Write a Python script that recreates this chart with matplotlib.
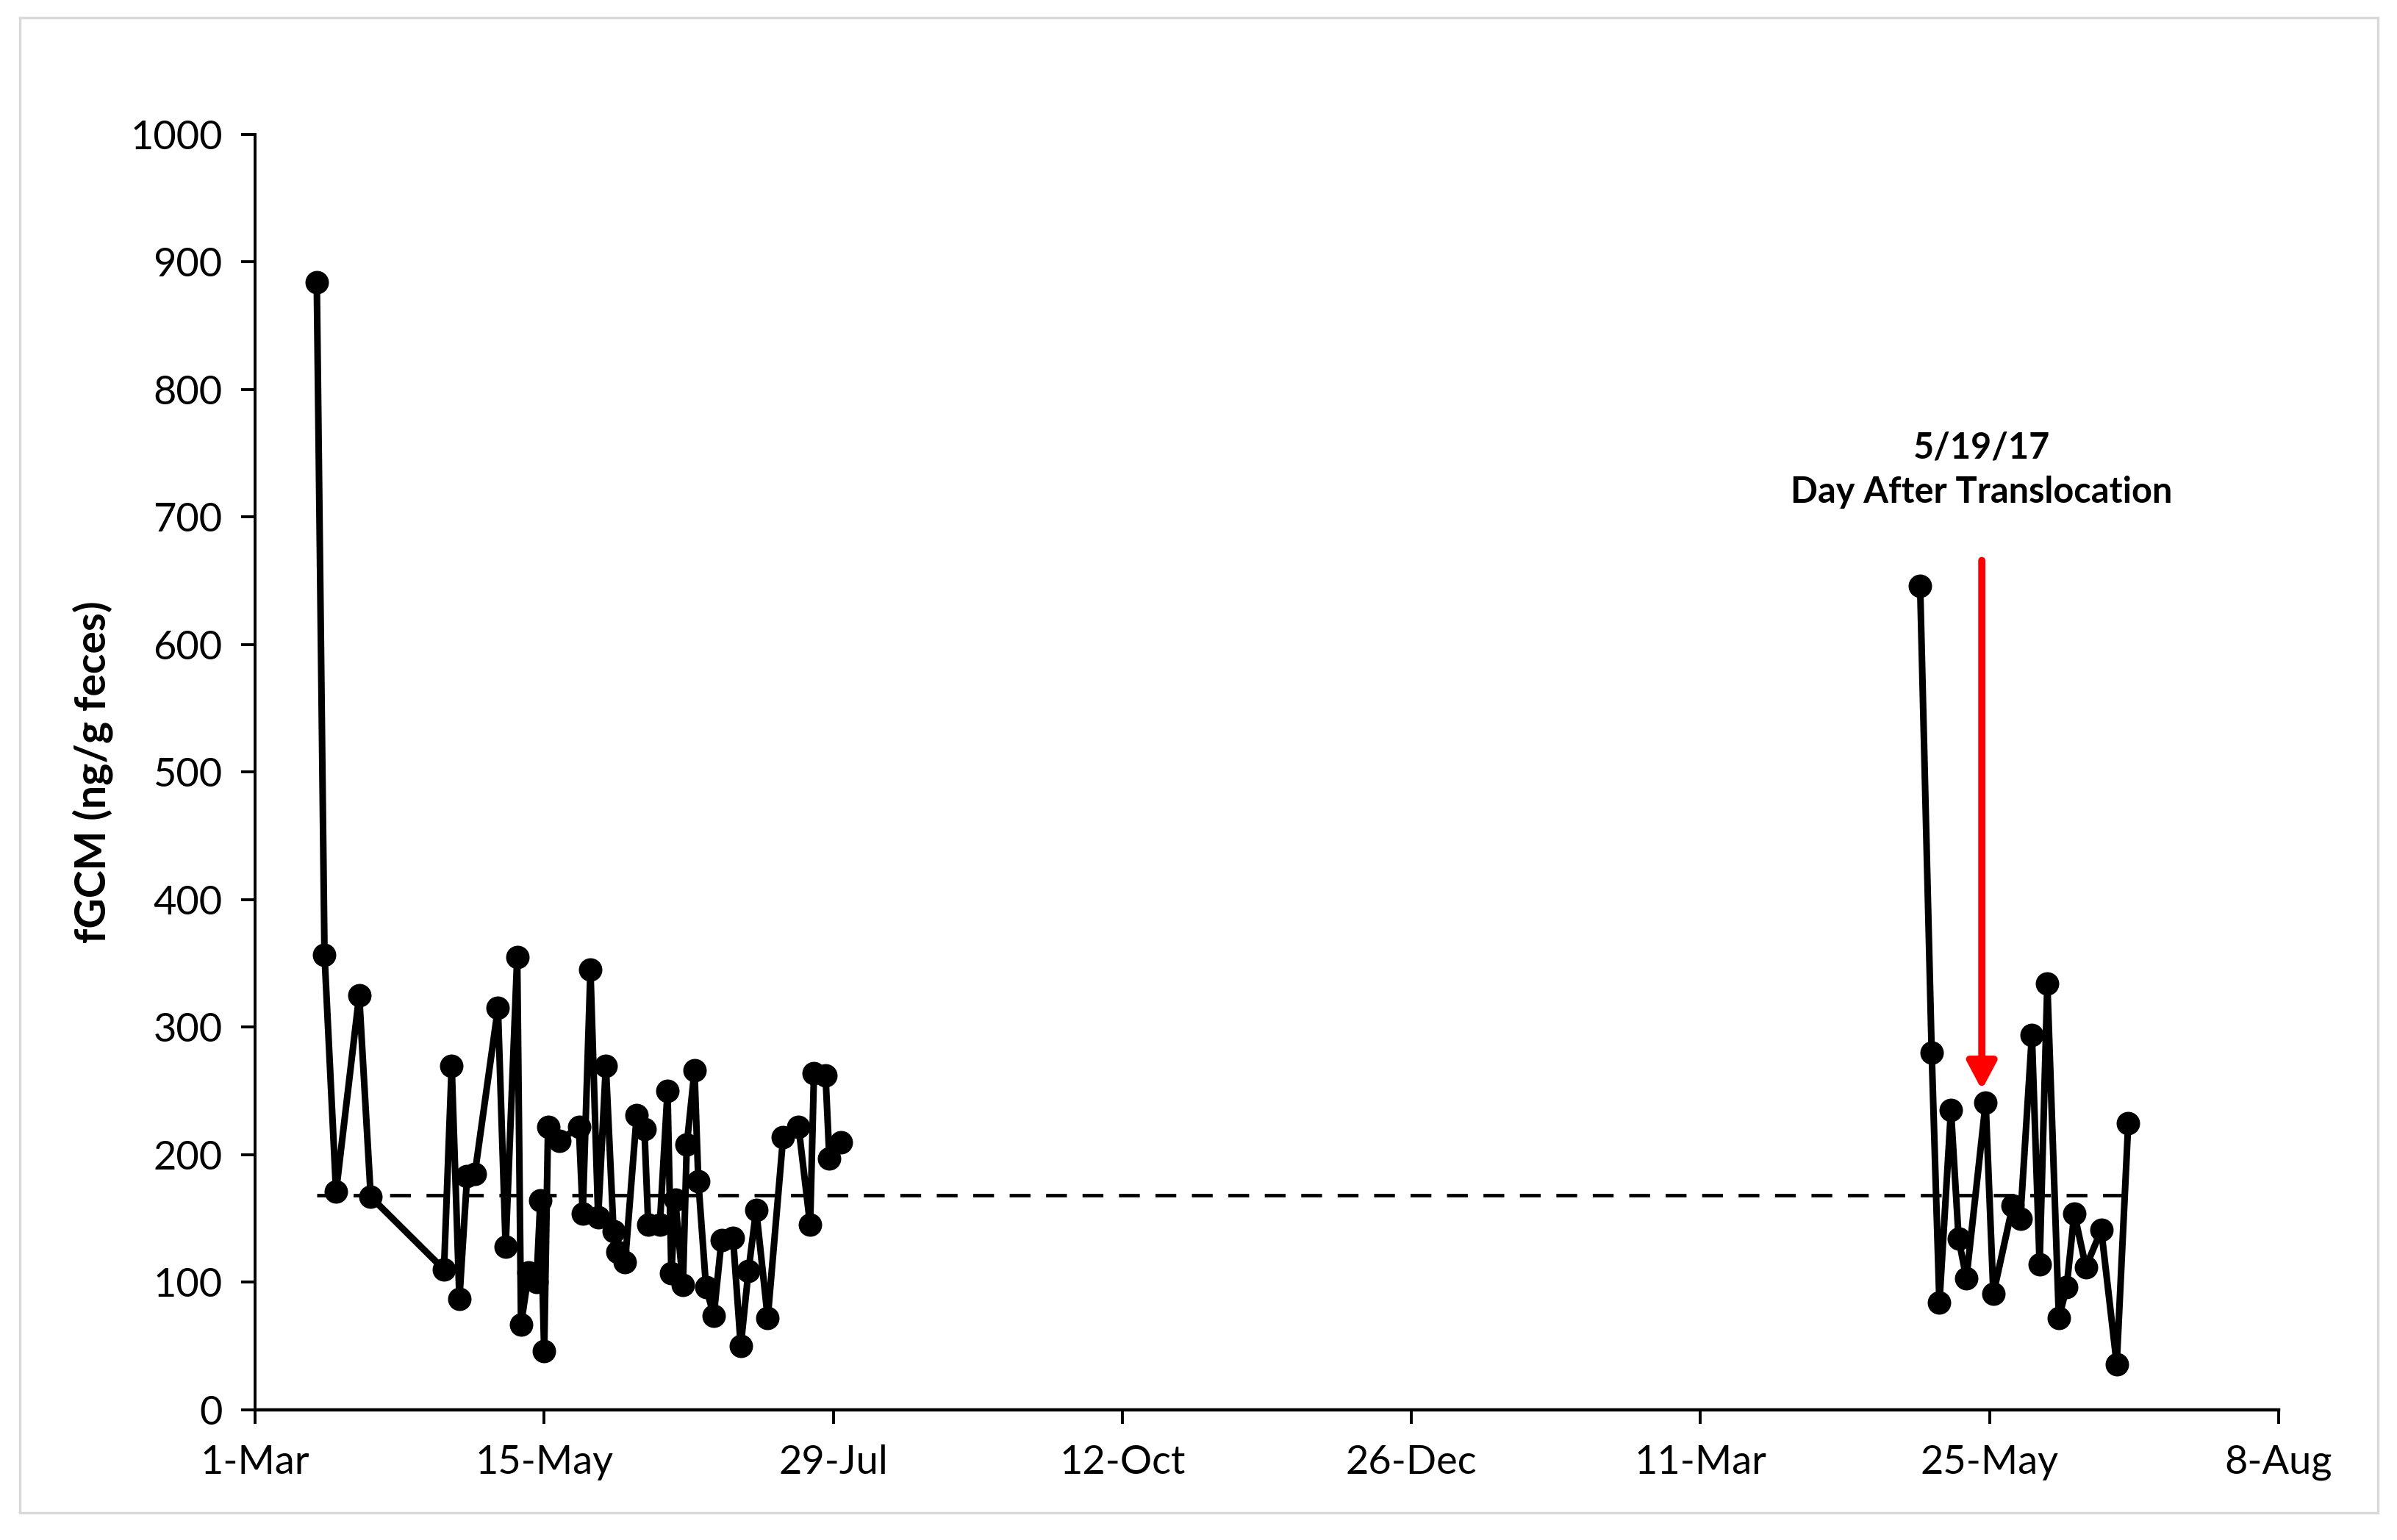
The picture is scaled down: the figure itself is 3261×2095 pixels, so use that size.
import matplotlib
matplotlib.use('Agg')
import matplotlib.pyplot as plt
import matplotlib.dates as mdates
import pandas as pd
from matplotlib.patches import Rectangle

# fGCM samples, first season (2016)
dates_2016 = ['2016-03-17', '2016-03-19', '2016-03-22', '2016-03-28', '2016-03-31',
              '2016-04-19', '2016-04-21', '2016-04-23', '2016-04-25', '2016-04-27',
              '2016-05-03', '2016-05-05', '2016-05-08', '2016-05-09', '2016-05-11',
              '2016-05-13', '2016-05-14', '2016-05-15', '2016-05-16', '2016-05-19',
              '2016-05-24', '2016-05-25', '2016-05-27', '2016-05-29', '2016-05-31',
              '2016-06-02', '2016-06-03', '2016-06-05', '2016-06-08', '2016-06-10',
              '2016-06-11', '2016-06-14', '2016-06-16', '2016-06-17', '2016-06-18',
              '2016-06-20', '2016-06-21', '2016-06-23', '2016-06-24', '2016-06-26',
              '2016-06-28', '2016-06-30', '2016-07-03', '2016-07-05', '2016-07-07',
              '2016-07-09', '2016-07-12', '2016-07-16', '2016-07-20', '2016-07-23',
              '2016-07-24', '2016-07-27', '2016-07-28', '2016-07-31']
fgcm_2016 = [884, 357, 171, 325, 167,
             110, 270, 87, 183, 185,
             315, 128, 355, 67, 108,
             100, 164, 46, 222, 211,
             222, 154, 345, 151, 270,
             140, 124, 116, 231, 220,
             145, 145, 250, 107, 165,
             98, 208, 266, 179, 96,
             74, 133, 135, 50, 109,
             157, 72, 214, 222, 145,
             264, 262, 197, 210]

# second season (2017)
dates_2017 = ['2017-05-07', '2017-05-10', '2017-05-12', '2017-05-15', '2017-05-17',
              '2017-05-19', '2017-05-24', '2017-05-26', '2017-05-31', '2017-06-02',
              '2017-06-05', '2017-06-07', '2017-06-09', '2017-06-12', '2017-06-14',
              '2017-06-16', '2017-06-19', '2017-06-23', '2017-06-27', '2017-06-30']
fgcm_2017 = [646, 280, 84, 235, 134,
             103, 241, 91, 160, 150,
             294, 114, 334, 72, 96,
             154, 112, 141, 36, 225]

baseline = 168
tick_start = '2016-03-01'
tick_step = '75D'
n_ticks = 8
y_ticks = list(range(0, 1001, 100))

arrow_date = '2017-05-23'
arrow_top = 666
arrow_tip = 251
note_y = 737
note_text = '5/19/17\nDay After Translocation'

plt.rcParams['font.family'] = ['Lato', 'DejaVu Sans']

fig = plt.figure(figsize=(32.62, 20.95), dpi=100)
ax = fig.add_axes([0.1064, 0.0845, 0.8439, 0.8282])

# light grey frame round the whole chart
fig.patches.append(Rectangle((0.0083, 0.0177), 0.9834, 0.9708, transform=fig.transFigure,
                             fill=False, edgecolor='#d9d9d9', lw=2.5))

# baseline dashed line
ax.plot(pd.to_datetime([dates_2016[0], dates_2017[-1]]), [baseline, baseline],
        color='black', lw=3.4, dashes=(6, 4.5), zorder=2)

for d, v in [(dates_2016, fgcm_2016), (dates_2017, fgcm_2017)]:
    ax.plot(pd.to_datetime(d), v, color='black', lw=6.5, marker='o', ms=22, zorder=3)

# red arrow and note
ax.annotate('', xy=(pd.Timestamp(arrow_date), arrow_tip),
            xytext=(pd.Timestamp(arrow_date), arrow_top),
            arrowprops=dict(arrowstyle='-|>,head_length=0.45,head_width=0.24', color='red',
                            lw=7, mutation_scale=50, shrinkA=0, shrinkB=0), zorder=4)
ax.text(pd.Timestamp(arrow_date), note_y, note_text, ha='center', va='center',
        fontsize=35, fontweight='bold', linespacing=1.4)

ticks = pd.date_range(tick_start, periods=n_ticks, freq=tick_step)
ax.set_xlim(ticks[0], ticks[-1])
ax.set_xticks(ticks)
ax.xaxis.set_major_formatter(mdates.DateFormatter('%-d-%b'))
ax.set_ylim(0, 1000)
ax.set_yticks(y_ticks)

for s in ['top', 'right']:
    ax.spines[s].set_visible(False)
ax.spines['left'].set_linewidth(2.8)
ax.spines['bottom'].set_linewidth(3.2)
ax.tick_params(axis='both', direction='out', length=14, width=2.8, labelsize=39)
ax.tick_params(axis='x', pad=20)
ax.tick_params(axis='y', pad=18)

ax.set_ylabel('fGCM (ng/g feces)', fontsize=41, fontweight='bold')
ax.yaxis.set_label_coords(-0.0701, 0.5)

fig.savefig('out.png', dpi=100)
